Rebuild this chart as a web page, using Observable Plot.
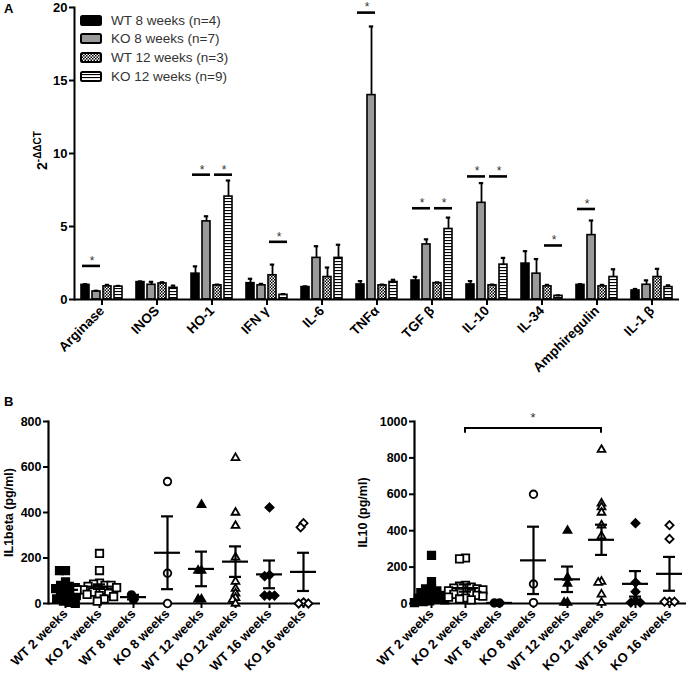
<!DOCTYPE html>
<html><head><meta charset="utf-8">
<script src="https://cdn.jsdelivr.net/npm/d3@7"></script>
<script src="https://cdn.jsdelivr.net/npm/@observablehq/plot@0.6"></script>
<style>
body{margin:0;background:#fff;}
#root{position:relative;width:688px;height:678px;overflow:hidden;font-family:"Liberation Sans",Arial,sans-serif;background:#fff;}
.panel{position:absolute;}
.letter{position:absolute;font-weight:bold;font-size:13px;color:#000;}
.leg{position:absolute;left:80px;font-size:13.5px;color:#333;display:flex;align-items:center;height:16px;}
.leg svg{margin-right:9px;}
#err{position:fixed;left:0;top:0;width:688px;font:11px monospace;color:red;white-space:pre-wrap;z-index:10;}
</style></head><body>
<svg width="0" height="0" style="position:absolute">
<defs>
<pattern id="checker" width="3" height="3" patternUnits="userSpaceOnUse">
<rect width="3" height="3" fill="#fff"/><rect width="1.5" height="1.5" fill="#000"/><rect x="1.5" y="1.5" width="1.5" height="1.5" fill="#000"/>
</pattern>
<pattern id="stripes" width="4" height="3" patternUnits="userSpaceOnUse">
<rect width="4" height="3" fill="#fff"/><rect y="0" width="4" height="1.1" fill="#000"/>
</pattern>
</defs></svg>
<div id="root"></div>
<div id="err"></div>
<script>
// ---------- Panel A data ----------
const genes = ["Arginase","INOS","HO-1","IFN γ","IL-6","TNFα","TGF β","IL-10","IL-34","Amphiregulin","IL-1 β"];
const seriesA = ["WT 8 weeks (n=4)","KO 8 weeks (n=7)","WT 12 weeks (n=3)","KO 12 weeks (n=9)"];
const wt8Mean  = [1.0, 1.19, 1.77, 1.12, 0.85, 1.03, 1.3, 1.03, 2.46, 1.0, 0.62];
const wt8Sem   = [0.05,0.05, 0.5, 0.3, 0.05, 0.23, 0.25, 0.23, 0.85, 0.05, 0.1];
const ko8Mean  = [0.55,1.01, 5.35, 0.97, 2.85, 14.0, 3.77, 6.62, 1.77, 4.41, 1.01];
const ko8Sem   = [0.05,0.2, 0.35, 0.1, 0.8, 4.7, 0.35, 1.35, 1.0, 1.0, 0.3];
const wt12Mean = [0.9, 1.1, 0.97, 1.66, 1.54, 0.97, 1.12, 0.97, 0.9, 0.9, 1.54];
const wt12Sem  = [0.1, 0.08, 0.05, 0.73, 0.65, 0.05, 0.05, 0.05, 0.1, 0.1, 0.56];
const ko12Mean = [0.88,0.8, 7.05, 0.32, 2.85, 1.2, 4.83, 2.39, 0.25, 1.54, 0.85];
const ko12Sem  = [0.05,0.15, 1.1, 0.05, 0.9, 0.15, 0.78, 0.46, 0.03, 0.53, 0.12];
const seriesFill = ["#000000", "#9a9a9a", "url(#checker)", "url(#stripes)"];
// significance lines: gene, first series, second series, height
const sigGene = ["Arginase","HO-1","HO-1","IFN γ","TNFα","TGF β","TGF β","IL-10","IL-10","IL-34","Amphiregulin"];
const sigFrom = [0,0,2,2,0,0,2,0,2,2,0];
const sigTo   = [1,1,3,3,1,1,3,1,3,3,1];
const sigY    = [2.3,8.55,8.55,3.95,19.65,6.25,6.25,8.43,8.43,3.7,6.2];

// ---------- Panel B data ----------
const groupsB = ["WT 2 weeks","KO 2 weeks","WT 8 weeks","KO 8 weeks","WT 12 weeks","KO 12 weeks","WT 16 weeks","KO 16 weeks"];
const il1bValues = [
  [145,145,95,80,75,70,65,55,50,40,35,30,20,10,5,0],
  [220,145,90,85,80,80,75,70,65,60,60,55,50,45,40,35,30,20,10],
  [17,38],
  [536,133,0],
  [434,145,145,18,18],
  [640,400,342,203,96,65,45,25,17,0],
  [422,125,120,35,35,35],
  [353,335,5,0,0]
];
const il1bMean = [60,74,28,223,152,184,128,139];
const il1bSem  = [12,10,10,160,76,67,61,84];
const il10Values = [
  [265,120,85,80,70,60,50,45,40,30,25,20,15,10,5],
  [250,245,100,95,90,85,80,75,70,65,60,55,50,45,40,35,30,25,20],
  [3,3],
  [600,107,5],
  [400,143,110,5,5],
  [845,550,530,500,430,370,120,115,50,5],
  [441,115,65,15,5,5],
  [430,355,10,10,10]
];
const il10Mean = [62,85,3,237,133,350,108,163];
const il10Sem  = [20,20,0,185,70,83,70,93];
const il10Bracket = {from: "KO 2 weeks", to: "KO 12 weeks", y: 962, tick: 935};
const symbolsB = ["square","square","circle","circle","triangle","triangle","diamond2","diamond2"];
const symbolRadius = {square: 4.2, circle: 3.8, triangle: 2.9, diamond2: 3.7};
const fillsB = ["black","white","black","white","black","white","black","white"];

const root = document.getElementById("root");
const FONT = '"Liberation Sans", Arial, sans-serif';
function report(tag, e) { document.getElementById("err").textContent += tag + ": " + (e && e.stack ? e.stack.split("\n").slice(0,3).join(" | ") : e) + "\n"; }

function addAbs(el, left, top) {
  const svg = el.tagName.toLowerCase() === "svg" ? el : el.querySelector("svg");
  el.classList.add("panel");
  el.style.left = left + "px";
  el.style.top = top + "px";
  root.appendChild(el);
  return svg;
}

try {
  // ---------- Panel A ----------
  const means = [wt8Mean, ko8Mean, wt12Mean, ko12Mean];
  const sems = [wt8Sem, ko8Sem, wt12Sem, ko12Sem];
  const dataA = [];
  genes.forEach((g, gi) => seriesA.forEach((s, si) => dataA.push({gene: g, series: s, mean: means[si][gi], hi: means[si][gi] + sems[si][gi]})));
  const sigData = sigGene.map((g, i) => ({gene: g, a: seriesA[sigFrom[i]], b: seriesA[sigTo[i]], y: sigY[i]}));

  const plotA = Plot.plot({
    width: 688, height: 400,
    marginLeft: 73, marginRight: 8, marginTop: 7, marginBottom: 101,
    style: {fontFamily: FONT, background: "transparent", color: "#000"},
    fx: {domain: genes, padding: 0, label: null},
    x: {domain: seriesA, paddingInner: 0.3, paddingOuter: 0.45, axis: null},
    y: {domain: [0, 20]},
    color: {domain: seriesA, range: seriesFill},
    marks: [
      Plot.axisY({ticks: [0,5,10,15,20], tickSize: 5, strokeWidth: 2, fontWeight: "bold", fontSize: 13, tickPadding: 2, label: null}),
      Plot.axisFx({anchor: "bottom", tickSize: 6, strokeWidth: 2, tickRotate: -45, fontWeight: "bold", fontSize: 13.5, tickPadding: 3, label: null}),
      Plot.barY(dataA, {fx: "gene", x: "series", y: "mean", fill: "series", stroke: "black", strokeWidth: 1.6}),
      Plot.ruleX(dataA, {fx: "gene", x: "series", y1: "mean", y2: "hi", strokeWidth: 1.8}),
      Plot.tickY(dataA, {fx: "gene", x: "series", y: "hi", strokeWidth: 2.2, insetLeft: 1.8, insetRight: 1.8}),
      Plot.ruleY(sigData, {fx: "gene", x1: "a", x2: "b", y: "y", strokeWidth: 2.6, insetLeft: 1}),
      Plot.text(sigData, {fx: "gene", x: "a", y: "y", text: () => "*", dx: 6.5, dy: -5, fontSize: 12, fill: "#333"}),
      Plot.ruleY([0], {strokeWidth: 2}),
      Plot.frame({anchor: "left", facet: "super", strokeWidth: 2})
    ]
  });
  const svgA = addAbs(plotA, 0, 0);
  const lab = d3.select(svgA).append("text")
    .attr("transform", "translate(47,170) rotate(-90)")
    .attr("text-anchor", "start")
    .attr("font-family", FONT).attr("font-weight", "bold").attr("font-size", 14).attr("fill", "#000");
  lab.append("tspan").text("2");
  lab.append("tspan").attr("dy", -6).attr("font-size", 10).text("-ΔΔCT");
} catch (e) { report("A", e); }

try {
  seriesA.forEach((s, i) => {
    const d = document.createElement("div");
    d.className = "leg";
    d.style.top = [12, 30, 49, 68][i] + "px";
    d.innerHTML = `<svg width="22" height="11"><rect x="1" y="1" width="20" height="9" rx="1.5" fill="${seriesFill[i]}" stroke="#000" stroke-width="2"/></svg><span>${s}</span>`;
    root.appendChild(d);
  });
} catch (e) { report("legend", e); }

function scatter(values, meanArr, semArr, yMax, label, opts) {
  const pts = groupsB.flatMap((g, i) => values[i].map(v => ({group: g, value: v, sym: symbolsB[i]})));
  const stats = groupsB.map((g, i) => ({group: g, mean: meanArr[i], lo: meanArr[i] - semArr[i], hi: meanArr[i] + semArr[i]}));
  const ticks = d3.range(0, yMax + 1, 200);
  return Plot.plot({
    width: 344, height: 278,
    marginLeft: opts.marginLeft, marginRight: opts.marginRight, marginTop: 21, marginBottom: 75,
    style: {fontFamily: FONT, background: "transparent", color: "#000"},
    fx: {domain: groupsB, padding: 0, label: null},
    y: {domain: [0, yMax]},
    r: {type: "identity"},
    symbol: {domain: groupsB, range: symbolsB},
    color: {domain: groupsB, range: fillsB},
    marks: [
      Plot.axisY({ticks, tickFormat: "d", tickSize: 5, strokeWidth: 2, fontWeight: "bold", fontSize: 12.5, tickPadding: 2,
        label, labelAnchor: "center", labelOffset: opts.labelOffset, labelArrow: "none"}),
      Plot.axisFx({anchor: "bottom", tickSize: 5, strokeWidth: 2, tickRotate: -45, fontWeight: "bold", fontSize: 13, tickPadding: 3, label: null}),
      Plot.ruleY([0], {strokeWidth: 2.2}),
      Plot.frame({anchor: "left", facet: "super", strokeWidth: 2.2}),
      Plot.dot(pts, Plot.dodgeX({anchor: "middle", padding: -2.4}, {fx: "group", y: "value", r: d => symbolRadius[d.sym], symbol: "group", fill: "group", stroke: "black", strokeWidth: 1.8})),
      Plot.tickY(stats, {fx: "group", y: "mean", strokeWidth: 2.2, insetLeft: 4, insetRight: 4}),
      Plot.ruleX(stats, {fx: "group", x: null, y1: "lo", y2: "hi", strokeWidth: 2.2}),
      Plot.tickY(stats, {fx: "group", y: "hi", strokeWidth: 2.2, insetLeft: 11, insetRight: 11}),
      Plot.tickY(stats, {fx: "group", y: "lo", strokeWidth: 2.2, insetLeft: 11, insetRight: 11})
    ]
  });
}
try {
  const pB1 = scatter(il1bValues, il1bMean, il1bSem, 800, "IL1beta (pg/ml)", {marginLeft: 48, marginRight: 24, labelOffset: 44});
  addAbs(pB1, 0, 400);
} catch (e) { report("B1", e); }
try {
  const pB2 = scatter(il10Values, il10Mean, il10Sem, 1000, "IL10 (pg/ml)", {marginLeft: 68, marginRight: 1, labelOffset: 56});
  const svgB2 = addAbs(pB2, 344, 400);
  const fxS = pB2.scale("fx"), yS = pB2.scale("y");
  const x1 = fxS.apply(il10Bracket.from) + fxS.bandwidth / 2;
  const x2 = fxS.apply(il10Bracket.to) + fxS.bandwidth / 2;
  const yT = yS.apply(il10Bracket.y), yK = yS.apply(il10Bracket.tick);
  d3.select(svgB2).append("path")
    .attr("d", `M${x1},${yK}V${yT}H${x2}V${yK}`)
    .attr("fill", "none").attr("stroke", "#000").attr("stroke-width", 2);
  d3.select(svgB2).append("text").attr("x", (x1 + x2) / 2).attr("y", yT - 6)
    .attr("text-anchor", "middle").attr("font-size", 13).attr("font-family", FONT).attr("fill", "#333").text("*");
} catch (e) { report("B2", e); }

[["A", 4, 1], ["B", 4, 394]].forEach(([t, l, tp]) => {
  const d = document.createElement("div");
  d.className = "letter"; d.textContent = t; d.style.left = l + "px"; d.style.top = tp + "px";
  root.appendChild(d);
});
</script>
</body></html>
